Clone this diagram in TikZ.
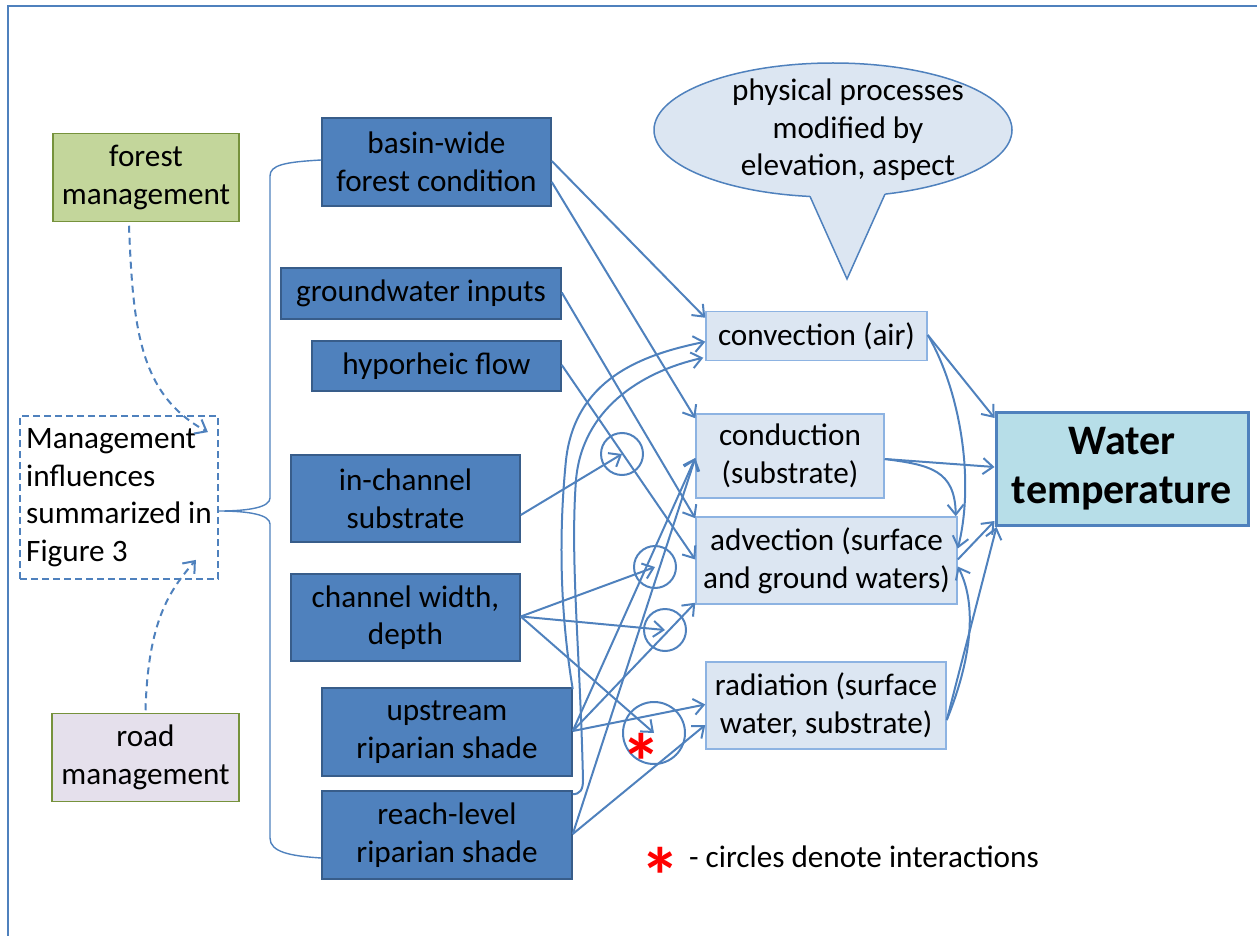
\documentclass[tikz,border=0pt]{standalone}
\usepackage{fontspec}
\setmainfont{Carlito}
\usetikzlibrary{arrows.meta,shapes.geometric,calc}
\definecolor{lineblue}{HTML}{4F81BD}
\definecolor{darkfill}{HTML}{4F81BD}
\definecolor{darkedge}{HTML}{385D8A}
\definecolor{lightfill}{HTML}{DCE6F2}
\definecolor{lightedge}{HTML}{8DB3E2}
\definecolor{wtfill}{HTML}{B7DEE8}
\definecolor{greenfill}{HTML}{C3D69B}
\definecolor{greenedge}{HTML}{76923C}
\definecolor{lilacfill}{HTML}{E5E0EC}
\definecolor{staredge}{HTML}{FF0000}
\tikzset{
  darkbox/.style={draw=darkedge, fill=darkfill, line width=0.75pt, align=center, inner sep=0pt},
  lightbox/.style={draw=lightedge, fill=lightfill, line width=0.75pt, align=center, inner sep=0pt},
  greenbox/.style={draw=greenedge, fill=greenfill, line width=0.75pt, align=center, inner sep=0pt},
  lilacbox/.style={draw=greenedge, fill=lilacfill, line width=0.75pt, align=center, inner sep=0pt},
  mgmtbox/.style={draw=lineblue, line width=0.9pt, dash pattern=on 3.5pt off 2pt, align=left, inner sep=0pt},
  wtbox/.style={draw=lineblue, fill=wtfill, line width=1.5pt, align=center, inner sep=0pt,
    font=\fontsize{21}{24.5}\selectfont\bfseries, execute at begin node={\vspace*{4.5pt}}},
  ix/.style={circle, draw=lineblue, line width=1pt, inner sep=0pt},
  link/.style={draw=lineblue, line width=1pt, -{Straight Barb[length=5pt,width=8pt]}},
  dlink/.style={draw=lineblue, line width=1pt, dash pattern=on 3.5pt off 2.5pt,
    -{Straight Barb[length=5pt,width=8pt]}},
  brace/.style={draw=lineblue, line width=0.7pt},
  redstar/.style={text=staredge, inner sep=0pt, font=\fontsize{40}{40}\selectfont\bfseries}
}
\begin{document}
\begin{tikzpicture}[x=0.5pt, y=-0.5pt, font=\fontsize{15.6}{18.8}\selectfont]
\useasboundingbox (0,0) rectangle (1257,936);
% outer frame
\draw[lineblue, line width=0.75pt] (8,960) -- (8,6) -- (1280,6);

% management drivers
\node[greenbox, minimum width=93pt, minimum height=44pt] (forest) at (146,177.5) {forest\\management};
\node[lilacbox, minimum width=93.5pt, minimum height=44pt] (road) at (145.5,757.5) {road\\management};
\node[mgmtbox, minimum width=99pt, minimum height=81.5pt] (mgmt) at (119,497.5)
  {Management\\influences\\summarized in\\Figure 3};

% landscape and channel factors
\node[darkbox, minimum width=114.5pt, minimum height=44pt] (basin) at (436.5,162) {basin-wide\\forest condition};
\node[darkbox, minimum width=140pt, minimum height=25.5pt] (gw) at (421,293.5) {groundwater inputs};
\node[darkbox, minimum width=124.5pt, minimum height=25pt] (hypo) at (436.5,366) {hyporheic flow};
\node[darkbox, minimum width=114.5pt, minimum height=43.5pt] (inchan) at (405.5,498.5) {in-channel\\substrate};
\node[darkbox, minimum width=114.5pt, minimum height=43.5pt] (width) at (405.5,617.5) {channel width,\\depth};
\node[darkbox, minimum width=125pt, minimum height=44pt] (up) at (447,732) {upstream\\riparian shade};
\node[darkbox, minimum width=125pt, minimum height=44pt] (reach) at (447,835) {reach-level\\riparian shade};

% physical processes
\node[lightbox, minimum width=110.5pt, minimum height=24.5pt] (conv) at (816.5,336) {convection (air)};
\node[lightbox, minimum width=94pt, minimum height=42pt] (cond) at (790,456) {conduction\\(substrate)};
\node[lightbox, minimum width=130.5pt, minimum height=43.5pt] (adv) at (826.5,560.5) {advection (surface\\and ground waters)};
\node[lightbox, minimum width=120pt, minimum height=43.5pt] (rad) at (826,705.5) {radiation (surface\\water, substrate)};
\node[wtbox, minimum width=126pt, minimum height=56.5pt] (wt) at (1122,469) {Water\\temperature};

% speech bubble
\node[ellipse, draw=lineblue, fill=lightfill, line width=0.75pt, minimum width=179pt,
  minimum height=67pt, inner sep=0pt] (bubble) at (833,130) {};
\coordinate (tip) at (847,279);
\coordinate (tailA) at ($(bubble.center)+(-23,66.4)$);
\coordinate (tailB) at ($(bubble.center)+(52,64.1)$);
\fill[lightfill] (tailA) -- ($(bubble.center)+(-23,52)$) -- ($(bubble.center)+(52,52)$) -- (tailB) -- (tip) -- cycle;
\draw[lineblue, line width=0.75pt, line join=miter] (tailA) -- (tip) -- (tailB);
\node[align=center] (bubbletext) at (848,130) {physical processes\\modified by\\elevation, aspect};

% interaction circles
\node[ix, minimum size=21pt] (c1) at (622,454) {};
\node[ix, minimum size=21pt] (c2) at (655,567) {};
\node[ix, minimum size=21pt] (c3) at (665,630) {};
\node[ix, minimum size=31pt] (c4) at (654,733) {};
\node[redstar] (c4star) at (641,762) {*};

% brace grouping the factors
\draw[brace] ([yshift=1pt]basin.west) .. controls (285,162) and (270,165) .. (270,176) -- (270,498)
  .. controls (270,507) and (250,511) .. ([yshift=-6.75pt]mgmt.east)
  .. controls (250,511) and (270,515) .. (270,524) -- (270,838)
  .. controls (270,852) and (290,856) .. ([yshift=-11.5pt]reach.west);

% management influences
\draw[dlink] ([xshift=-8.5pt,yshift=-1.75pt]forest.south) .. controls (133,330) and (140,395)
  .. ([xshift=-5.5pt,yshift=-8.5pt]mgmt.north east);
\draw[dlink] ([yshift=1.25pt]road.north) .. controls (148,620) and (170,590)
  .. ([xshift=-11.5pt,yshift=10pt]mgmt.south east);

% factors to processes
\draw[link] ([yshift=0.5pt]basin.east) -- ([yshift=-3.5pt]conv.north west);
\draw[link] ([yshift=-10pt]basin.east) -- ([yshift=-2.5pt]cond.north west);
\draw[link] ([yshift=0.5pt]gw.east) -- ([yshift=-1pt]adv.north west);
\draw[link] ([yshift=0.5pt]hypo.east) -- ([yshift=0.5pt]adv.west);
\draw[link] ([yshift=-8.25pt]inchan.east) -- (c1.center);
\draw[link] ([yshift=0.5pt]width.east) -- (c2.center);
\draw[link] ([yshift=0.5pt]width.east) -- (c3.center);
\draw[link] ([yshift=0.5pt]width.east) -- (c4.center);
\draw[link] ([yshift=0.5pt]up.east) -- ([yshift=-1pt]cond.west);
\draw[link] ([yshift=0.5pt]reach.east) -- ([yshift=-1pt]cond.west);
\draw[link] ([yshift=0.5pt]up.east) -- ([yshift=1pt]adv.south west);
\draw[link] ([yshift=0.5pt]up.east) -- ([yshift=0.5pt]rad.west);
\draw[link] ([yshift=0.5pt]reach.east) -- ([yshift=-9.75pt]rad.west);
\draw[link] ([yshift=-1pt]up.north east) .. controls (558,600) and (560,520) .. (566,460)
  .. controls (575,380) and (640,355) .. ([yshift=-15.5pt]conv.north west);
\draw[link] ([yshift=-2pt]reach.north east) .. controls (580,794) and (583,790) .. (583,780)
  .. controls (580,650) and (570,560) .. (576,480)
  .. controls (582,410) and (640,372) .. ([xshift=-1pt,yshift=-23.5pt]conv.north west);

% processes to water temperature
\draw[link] ([yshift=0.5pt]conv.east) -- ([yshift=-3.5pt]wt.north west);
\draw[link] ([yshift=0.5pt]conv.east) .. controls (960,390) and (975,480) .. ([yshift=6pt]adv.east);
\draw[link] ([yshift=-1.5pt]cond.east) -- ([yshift=1pt]wt.west);
\draw[link] ([yshift=-1.5pt]cond.east) .. controls (930,465) and (955,470) .. ([xshift=-1pt]adv.north east);
\draw[link] ([yshift=0.5pt]adv.east) -- ([yshift=3pt]wt.south west);
\draw[link] ([yshift=-7.25pt]rad.east) -- ([xshift=1pt]wt.south west);
\draw[link] ([yshift=-7.25pt]rad.east) .. controls (975,650) and (975,600) .. ([yshift=-3pt]adv.east);

% legend
\node[redstar] (legstar) at (660,876) {*};
\node[anchor=west] (legend) at (682,857) {- circles denote interactions};
\end{tikzpicture}
\end{document}
